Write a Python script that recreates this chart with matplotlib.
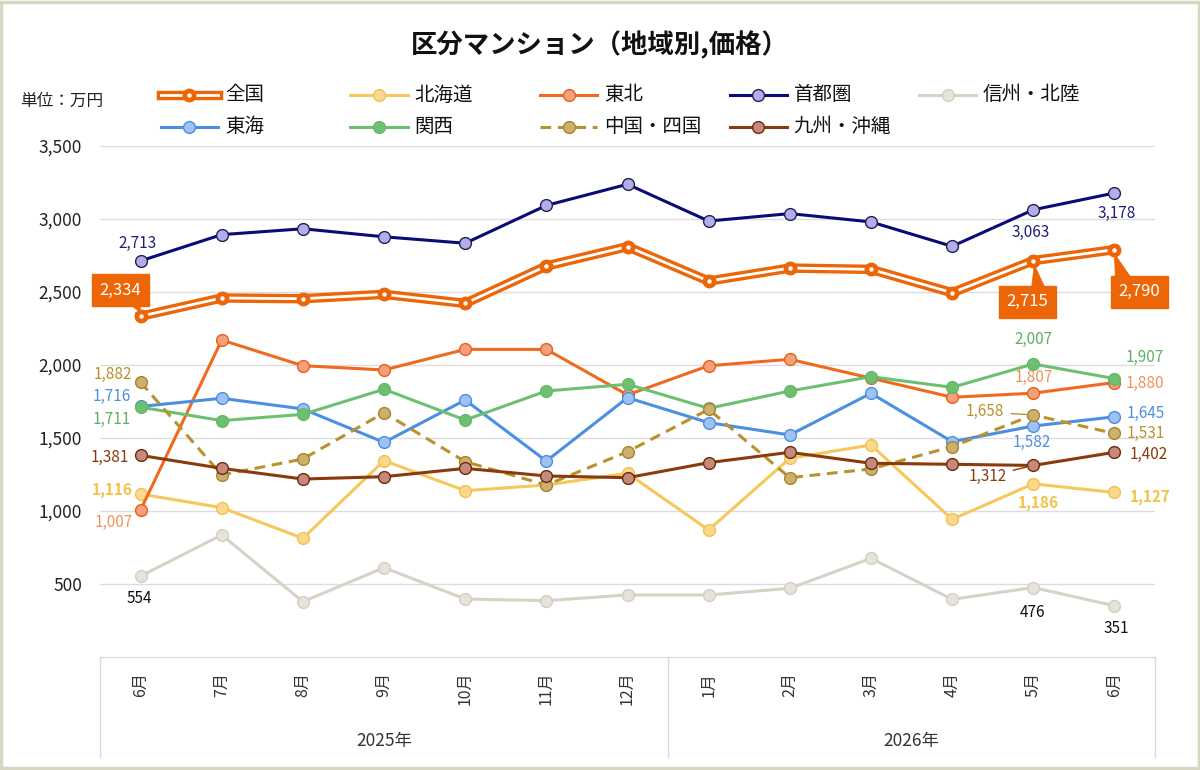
import matplotlib
matplotlib.use("Agg")
import matplotlib.pyplot as plt
from matplotlib.lines import Line2D
from matplotlib.patches import Rectangle, Polygon
import matplotlib.transforms as mtransforms

plt.rcParams['font.family'] = ['Noto Sans CJK JP', 'DejaVu Sans']

# ---------------- data ----------------
months = ["6月", "7月", "8月", "9月", "10月", "11月", "12月",
          "1月", "2月", "3月", "4月", "5月", "6月"]
years = ["2025年", "2026年"]
year_spans = [(0, 6), (7, 12)]

zenkoku   = [2334, 2459, 2454, 2484, 2422, 2678, 2811, 2575, 2664, 2655, 2495, 2715, 2790]
hokkaido  = [1116, 1023, 813, 1345, 1139, 1178, 1258, 870, 1361, 1452, 943, 1186, 1127]
tohoku    = [1007, 2171, 1995, 1966, 2107, 2107, 1795, 1995, 2039, 1910, 1779, 1807, 1880]
shutoken  = [2713, 2893, 2933, 2878, 2834, 3093, 3238, 2986, 3037, 2980, 2813, 3063, 3178]
shinshu   = [554, 836, 379, 612, 397, 386, 425, 425, 470, 676, 395, 476, 351]
tokai     = [1716, 1772, 1699, 1470, 1760, 1342, 1776, 1605, 1521, 1806, 1475, 1582, 1645]
kansai    = [1711, 1619, 1662, 1834, 1623, 1822, 1868, 1703, 1822, 1920, 1847, 2007, 1907]
chugoku   = [1882, 1247, 1356, 1673, 1338, 1178, 1406, 1696, 1228, 1288, 1441, 1658, 1531]
kyushu    = [1381, 1292, 1219, 1235, 1292, 1240, 1228, 1331, 1402, 1327, 1320, 1312, 1402]

series_names = ["全国", "北海道", "東北", "首都圏", "信州・北陸",
                "東海", "関西", "中国・四国", "九州・沖縄"]
series_values = [zenkoku, hokkaido, tohoku, shutoken, shinshu,
                 tokai, kansai, chugoku, kyushu]

# style: (line color, marker face, marker edge, linestyle, label color)
ORANGE = "#EC6608"
styles = {
    "全国":      (ORANGE,    ORANGE,    ORANGE,    "-",  "white"),
    "北海道":    ("#F6C75A", "#FAD98E", "#F2C250", "-",  "#F3C247"),
    "東北":      ("#EE6A1E", "#F4A07C", "#E8601A", "-",  "#F0925A"),
    "首都圏":    ("#0A0A78", "#B3ADF0", "#22224A", "-",  "#1E1E78"),
    "信州・北陸": ("#D8D1C6", "#E6E3DA", "#D3CEC2", "-",  "#111111"),
    "東海":      ("#4A90E2", "#9EC2F2", "#4A8FE0", "-",  "#4A90E2"),
    "関西":      ("#6CC070", "#6CC070", "#66B86A", "-",  "#5DAF62"),
    "中国・四国": ("#B8922E", "#CDAF6E", "#A8842A", "--", "#B8922E"),
    "九州・沖縄": ("#8B3A0C", "#C48A7C", "#6E2A0A", "-",  "#8B3A0C"),
}

W, H = 1200, 770
fig = plt.figure(figsize=(12, 7.7), dpi=100)
fig.patch.set_facecolor("white")
ax = fig.add_axes([100 / W, 1 - 657 / H, 1055 / W, 511 / H])

x = list(range(len(months)))

# ---------------- lines ----------------
for name, vals in zip(series_names, series_values):
    lc, mf, me, ls, _ = styles[name]
    if name == "全国":
        ax.plot(x, vals, color=lc, lw=6.8, solid_joinstyle="miter", zorder=5)
        ax.plot(x, vals, color="white", lw=2.0, zorder=6)
        ax.plot(x, vals, ls="none", marker="o", ms=9, mfc=lc, mec=lc, zorder=7)
        ax.plot(x, vals, ls="none", marker="o", ms=2.2, mfc="white", mec="white", zorder=8)
    else:
        ax.plot(x, vals, color=lc, lw=2.2, ls=ls, marker="o", ms=8.5,
                mfc=mf, mec=me, mew=1.0, zorder=3,
                dashes=(3.5, 2.2) if ls == "--" else (None, None))

# ---------------- axes styling ----------------
ax.set_xlim(-0.5, 12.5)
ax.set_ylim(0, 3500)
yt = [500, 1000, 1500, 2000, 2500, 3000, 3500]
ax.set_yticks(yt)
ax.set_yticklabels([f"{v:,}" for v in yt], fontsize=12.5, color="#222222")
ax.tick_params(axis="y", length=0, pad=13)
ax.set_xticks([])
ax.grid(axis="y", color="#DCDCE2", lw=1.0, zorder=0)
for s in ["top", "right", "left"]:
    ax.spines[s].set_visible(False)
ax.spines["bottom"].set_color("#D9D9D9")

# ---------------- category table ----------------
blend = mtransforms.blended_transform_factory(ax.transData, ax.transAxes)
for xv in [-0.5, 6.5, 12.5]:
    ax.plot([xv, xv], [0, -0.196], color="#D9D9D9", lw=1.0,
            transform=blend, clip_on=False)
for i, m in enumerate(months):
    ax.text(i, -0.029, m, rotation=90, ha="center", va="top",
            fontsize=11.5, color="#333333", transform=blend)
for yl, (a, b) in zip(years, year_spans):
    ax.text((a + b) / 2, -0.164, yl, ha="center", va="center",
            fontsize=12.5, color="#333333", transform=blend)

# ---------------- data labels ----------------
# (series, index, dx px, dy px, ha, leader)
label_specs = [
    ("首都圏", 0, -3, 17, "center", False),
    ("首都圏", 11, -3, -23, "center", False),
    ("首都圏", 12, 2, -20, "center", False),
    ("中国・四国", 0, -9, 8, "right", False),
    ("中国・四国", 11, -29, 3, "right", True),
    ("中国・四国", 12, 12, 0, "left", False),
    ("東海", 0, -10, 10, "right", False),
    ("東海", 11, -2, -16, "center", False),
    ("東海", 12, 12, 3, "left", False),
    ("関西", 0, -10, -12, "right", False),
    ("関西", 11, 0, 25, "center", False),
    ("関西", 12, 11, 21, "left", False),
    ("東北", 0, -8, -12, "right", False),
    ("東北", 11, 1, 16, "center", False),
    ("東北", 12, 11, -1, "left", False),
    ("九州・沖縄", 0, -12, -2, "right", False),
    ("九州・沖縄", 11, -27, -11, "right", True),
    ("九州・沖縄", 12, 15, -2, "left", False),
    ("北海道", 0, -8, 4, "right", False),
    ("北海道", 11, 5, -19, "center", False),
    ("北海道", 12, 15, -5, "left", False),
    ("信州・北陸", 0, -1, -22, "center", False),
    ("信州・北陸", 11, -1, -25, "center", False),
    ("信州・北陸", 12, 2, -23, "center", False),
]
vals_by_name = dict(zip(series_names, series_values))
for name, idx, dx, dy, ha, leader in label_specs:
    v = vals_by_name[name][idx]
    col = styles[name][4]
    weight = "bold" if name == "北海道" else "normal"
    kw = {}
    if leader:
        kw["arrowprops"] = dict(arrowstyle="-", color=col, lw=1.0,
                                shrinkA=3, shrinkB=5)
    ax.annotate(f"{v:,}", xy=(idx, v), xytext=(dx, dy), textcoords="offset pixels",
                ha=ha, va="center", fontsize=11, color=col, fontweight=weight,
                zorder=9, **kw)

# 全国 callouts: (index, box offset dx, dy, pointer polygon offsets in px)
callouts = [
    (0, -20, 26, [(-17, 16), (-1, 16), (0, 4)]),
    (11, -6, -41, [(-2, -30), (13, -30), (1, -4)]),
    (12, 25, -42, [(1, -30), (18, -30), (0, -4)]),
]
for idx, dx, dy, poly in callouts:
    v = zenkoku[idx]
    px, py = ax.transData.transform((idx, v))
    verts = [(px + a, py + b) for a, b in poly]
    fig.add_artist(Polygon(verts, closed=True, fc=ORANGE, ec=ORANGE, lw=0.5,
                           transform=mtransforms.IdentityTransform(), zorder=10))
    ax.annotate(f"{v:,}", xy=(idx, v), xytext=(dx, dy), textcoords="offset pixels",
                ha="center", va="center", fontsize=12, color="white", zorder=11,
                bbox=dict(boxstyle="square,pad=0.45", fc=ORANGE, ec=ORANGE))

# ---------------- title, unit ----------------
fig.text(600 / W, 1 - 45 / H, "区分マンション（地域別,価格）", ha="center", va="center",
         fontsize=19, fontweight="bold", color="#111111")
fig.text(20 / W, 1 - 101 / H, "単位：万円", ha="left", va="center",
         fontsize=12, color="#222222")

# ---------------- legend (manual, equal column widths) ----------------
for i, name in enumerate(series_names):
    lc, mf, me, ls, _ = styles[name]
    col, row = i % 5, i // 5
    x0 = 161 + col * 189.5
    x1 = x0 + 57
    yy = 95 + row * 31.5
    fx0, fx1, fy = x0 / W, x1 / W, 1 - yy / H
    fxm = (fx0 + fx1) / 2
    if name == "全国":
        fig.add_artist(Line2D([fx0, fx1], [fy, fy], color=lc, lw=6.8,
                              transform=fig.transFigure))
        fig.add_artist(Line2D([fx0, fx1], [fy, fy], color="white", lw=2.0,
                              transform=fig.transFigure))
        fig.add_artist(Line2D([fxm], [fy], marker="o", ms=9, mfc=lc, mec=lc,
                              ls="none", transform=fig.transFigure))
        fig.add_artist(Line2D([fxm], [fy], marker="o", ms=2.2, mfc="white", mec="white",
                              ls="none", transform=fig.transFigure))
    else:
        ln = Line2D([fx0, fx1], [fy, fy], color=lc, lw=2.2, ls=ls,
                    transform=fig.transFigure)
        if ls == "--":
            ln.set_dashes((3.5, 2.2))
        fig.add_artist(ln)
        fig.add_artist(Line2D([fxm], [fy], marker="o", ms=8.5, mfc=mf, mec=me, mew=1.0,
                              ls="none", transform=fig.transFigure))
    fig.text((x1 + 7) / W, fy, name, ha="left", va="center", fontsize=14,
             color="#111111")

# ---------------- outer frame ----------------
fig.add_artist(Rectangle((0.001, 0.002), 0.998, 0.996, transform=fig.transFigure,
                         fill=False, ec="#D8D5C2", lw=2.5))

fig.savefig("out.png", dpi=100)
